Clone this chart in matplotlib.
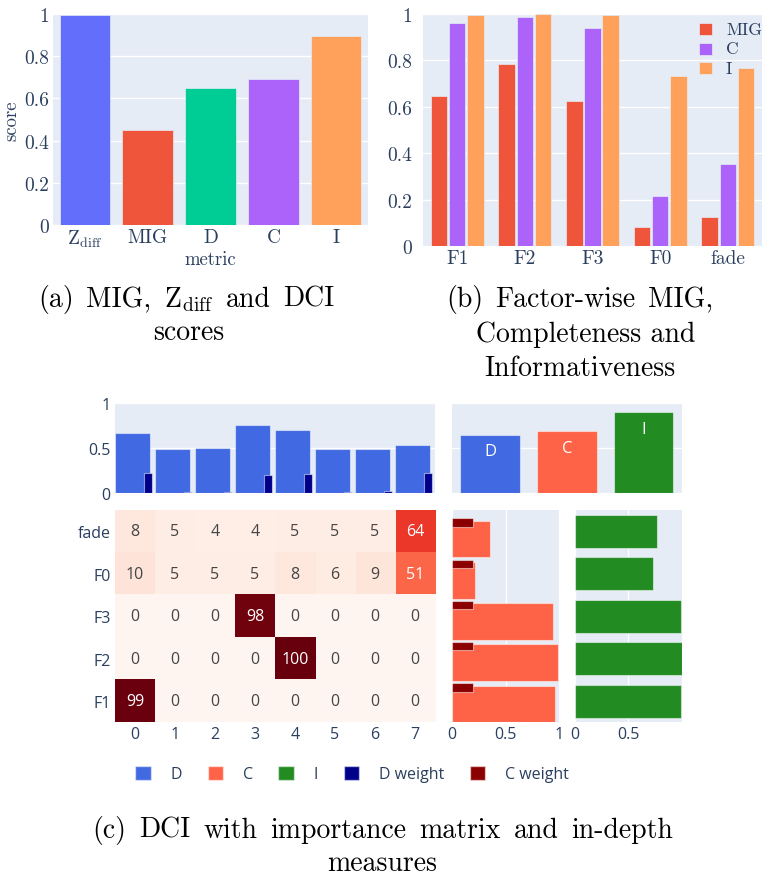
import matplotlib
matplotlib.use('Agg')
import matplotlib.pyplot as plt
import numpy as np
from matplotlib.patches import Patch, Rectangle

plt.rcParams['mathtext.fontset'] = 'cm'
plt.rcParams['axes.formatter.use_mathtext'] = True

# --- datos ---
metrics = ['Z$_{\\mathrm{diff}}$', 'MIG', 'D', 'C', 'I']
scores = [0.995, 0.45, 0.65, 0.69, 0.895]

factors = ['F1', 'F2', 'F3', 'F0', 'fade']
mig_f = [0.647, 0.784, 0.625, 0.082, 0.125]
comp_f = [0.96, 0.987, 0.94, 0.216, 0.354]
info_f = [0.995, 0.998, 0.995, 0.733, 0.767]

codes = ['0', '1', '2', '3', '4', '5', '6', '7']
# filas en el orden de factors (F1 abajo, fade arriba)
importance = [
    [99, 0, 0, 0, 0, 0, 0, 0],
    [0, 0, 0, 0, 100, 0, 0, 0],
    [0, 0, 0, 98, 0, 0, 0, 0],
    [10, 5, 5, 5, 8, 6, 9, 51],
    [8, 5, 4, 4, 5, 5, 5, 64],
]
disent = [0.664, 0.49, 0.506, 0.76, 0.697, 0.487, 0.494, 0.539]
d_weight = [0.225, 0.01, 0.01, 0.207, 0.218, 0.012, 0.02, 0.22]
c_weight = [0.2, 0.2, 0.2, 0.2, 0.2]
overall = ['D', 'C', 'I']
overall_vals = [0.648, 0.685, 0.897]

# --- estilo ---
W, H = 764, 878
BG = '#E5ECF6'
TXT = '#2a3f5f'
SERIF = 'cmr10'
SANS = 'Open Sans'
plotly_cols = ['#636efa', '#EF553B', '#00cc96', '#ab63fa', '#FFA15A']
D_COL, C_COL, I_COL = '#4169E1', '#FF6347', '#228B22'
DW_COL, CW_COL = '#00008B', '#8B0000'
EDGE = (1, 1, 1, 0.5)

fig = plt.figure(figsize=(W / 100, H / 100), dpi=100)


def box(x0, y0, x1, y1):
    # coordenadas en pixeles -> fraccion de figura
    return [x0 / W, 1 - y1 / H, (x1 - x0) / W, (y1 - y0) / H]


def clean(ax, grid_axis='y'):
    ax.set_facecolor(BG)
    for s in ax.spines.values():
        s.set_visible(False)
    ax.grid(axis=grid_axis, color='white', lw=1)
    ax.set_axisbelow(True)
    ax.tick_params(length=0, colors=TXT)


# (a) puntuaciones globales
ax = fig.add_axes(box(53.3, 15, 367.7, 226))
clean(ax)
x = np.arange(len(metrics))
ax.bar(x, scores, width=0.8, color=plotly_cols, edgecolor=BG, lw=0.5)
ax.set_xlim(-0.5, 4.5)
ax.set_ylim(0, 1)
ax.set_xticks(x)
ax.set_xticklabels(metrics, fontfamily=SERIF, fontsize=14)
ax.set_yticks([0, 0.2, 0.4, 0.6, 0.8, 1])
ax.set_yticklabels(['0', '0.2', '0.4', '0.6', '0.8', '1'], fontfamily=SERIF, fontsize=14)
ax.tick_params(axis='x', pad=2)
ax.tick_params(axis='y', pad=3)
ax.set_xlabel('metric', fontfamily=SERIF, fontsize=13.5, color=TXT, labelpad=1)
ax.set_ylabel('score', fontfamily=SERIF, fontsize=13.5, color=TXT, labelpad=3)

# (b) por factor
ax = fig.add_axes(box(423.3, 15, 761.7, 247))
clean(ax)
x = np.arange(len(factors))
bw = 0.245
series_b = [('MIG', mig_f, plotly_cols[1]), ('C', comp_f, plotly_cols[3]), ('I', info_f, plotly_cols[4])]
for k, (name, vals, col) in enumerate(series_b):
    ax.bar(x + (k - 1) * 0.267, vals, width=bw, color=col, edgecolor=BG, lw=0.5, label=name)
ax.set_xlim(-0.5, 4.5)
ax.set_ylim(0, 1)
ax.set_xticks(x)
ax.set_xticklabels(factors, fontfamily=SERIF, fontsize=14)
ax.set_yticks([0, 0.2, 0.4, 0.6, 0.8, 1])
ax.set_yticklabels(['0', '0.2', '0.4', '0.6', '0.8', '1'], fontfamily=SERIF, fontsize=14)
ax.tick_params(axis='y', pad=8)
ax.tick_params(axis='x', pad=2)

# leyenda de (b), dibujada a mano para que quepa en el borde
for k, (name, vals, col) in enumerate(series_b):
    yc = 30 + k * 19.5
    fig.add_artist(Rectangle((699 / W, 1 - (yc + 6) / H), 12.5 / W, 12 / H,
                             transform=fig.transFigure, facecolor=col, edgecolor=BG, lw=0.5))
    fig.text(726 / W, 1 - yc / H, name, fontfamily=SERIF, fontsize=12.5, color=TXT,
             ha='left', va='center')

# (c) barras de desenredo por codigo
ax = fig.add_axes(box(115, 404, 435, 494.3))
clean(ax)
xc = np.arange(len(codes))
ax.bar(xc - 0.5, disent, width=0.88, align='edge', color=D_COL, edgecolor=EDGE, lw=0.8)
ax.bar(xc + 0.23, d_weight, width=0.2, align='edge', color=DW_COL, edgecolor=EDGE, lw=0.8)
ax.set_xlim(-0.5, 7.5)
ax.set_ylim(0, 1)
ax.set_xticks([])
ax.set_yticks([0, 0.5, 1])
ax.set_yticklabels(['0', '0.5', '1'], fontfamily=SANS, fontsize=11.5)
ax.tick_params(axis='y', pad=3)

# (c) D, C, I global
ax = fig.add_axes(box(452, 404, 681.7, 494.3))
clean(ax)
xo = np.arange(len(overall))
bars = ax.bar(xo, overall_vals, width=0.78, color=[D_COL, C_COL, I_COL], edgecolor=EDGE, lw=0.8)
for b, lab in zip(bars, overall):
    ax.annotate(lab, (b.get_x() + b.get_width() / 2, b.get_height()),
                xytext=(0, -12), textcoords='offset points', ha='center', va='center',
                color='white', fontfamily=SANS, fontsize=12)
ax.set_xlim(-0.5, 2.5)
ax.set_ylim(0, 1)
ax.set_xticks([])
ax.set_yticks([0, 0.5, 1])
ax.set_yticklabels([])

# (c) matriz de importancia
ax = fig.add_axes(box(115, 511, 435, 723.3))
imp = np.array(importance)
ax.imshow(imp, cmap='Reds', vmin=0, vmax=100, aspect='auto', origin='lower',
          interpolation='nearest')
for i in range(imp.shape[0]):
    for j in range(imp.shape[1]):
        v = imp[i, j]
        ax.text(j, i, str(v), ha='center', va='center', fontfamily=SANS, fontsize=11.5,
                color='white' if v > 50 else '#444444')
for s in ax.spines.values():
    s.set_visible(False)
ax.set_xticks(np.arange(len(codes)))
ax.set_xticklabels(codes, fontfamily=SANS, fontsize=11.5)
ax.set_yticks(np.arange(len(factors)))
ax.set_yticklabels(factors, fontfamily=SANS, fontsize=11.5)
ax.tick_params(length=0, colors=TXT, pad=3)

# (c) completitud por factor
ax = fig.add_axes(box(452, 511, 559, 723.3))
clean(ax, 'x')
yf = np.arange(len(factors))
ax.barh(yf, comp_f, height=0.89, color=C_COL, edgecolor=EDGE, lw=0.8)
ax.barh(yf + 0.4, c_weight, height=0.2, color=CW_COL, edgecolor=EDGE, lw=0.8)
ax.set_ylim(-0.444, 4.70)
ax.set_xlim(0, 1)
ax.set_yticks([])
ax.set_xticks([0, 0.5, 1])
ax.set_xticklabels(['0', '0.5', '1'], fontfamily=SANS, fontsize=11.5)
ax.tick_params(axis='x', pad=3)

# (c) informatividad por factor
ax = fig.add_axes(box(575, 511, 681.7, 723.3))
clean(ax, 'x')
ax.barh(yf, info_f, height=0.78, color=I_COL, edgecolor=EDGE, lw=0.8)
ax.set_ylim(-0.5, 4.5)
ax.set_xlim(0, 0.998)
ax.set_yticks([])
ax.set_xticks([0, 0.5])
ax.set_xticklabels(['0', '0.5'], fontfamily=SANS, fontsize=11.5)
ax.tick_params(axis='x', pad=3)

# leyenda comun de (c)
handles = [Patch(facecolor=c, edgecolor=EDGE) for c in [D_COL, C_COL, I_COL, DW_COL, CW_COL]]
fig.legend(handles, ['D', 'C', 'I', 'D weight', 'C weight'], loc='center',
           bbox_to_anchor=(352 / W, 1 - 775 / H), ncol=5, frameon=False,
           prop={'family': SANS, 'size': 11.5}, labelcolor=TXT,
           handlelength=0.95, handleheight=0.95, handletextpad=1.25, columnspacing=1.6)

# pies de figura (estilo LaTeX, lineas justificadas)
cap = dict(fontfamily=SERIF, fontsize=20, va='baseline', color='black')
renderer = fig.canvas.get_renderer()


def justified(words, x0, x1, base):
    ts = [fig.text(0, 1 - base / H, w, ha='left', **cap) for w in words]
    ws = [t.get_window_extent(renderer).width for t in ts]
    gap = (x1 - x0 - sum(ws)) / (len(ws) - 1)
    xx = x0
    for t, w in zip(ts, ws):
        t.set_x(xx / W)
        xx += w + gap


def centered(line, xc, base):
    fig.text(xc / W, 1 - base / H, line, ha='center', **cap)


justified(['(a)', 'MIG,', 'Z$_{\\mathrm{diff}}$', 'and', 'DCI'], 38, 334, 307)
centered('scores', 189, 340)
justified(['(b)', 'Factor-wise', 'MIG,'], 446, 713, 307)
centered('Completeness and', 586, 342)
centered('Informativeness', 580, 376)
justified(['(c)', 'DCI', 'with', 'importance', 'matrix', 'and', 'in-depth'], 92.7, 673.3, 838)
centered('measures', 382, 871)

fig.savefig('out.png', dpi=100)
